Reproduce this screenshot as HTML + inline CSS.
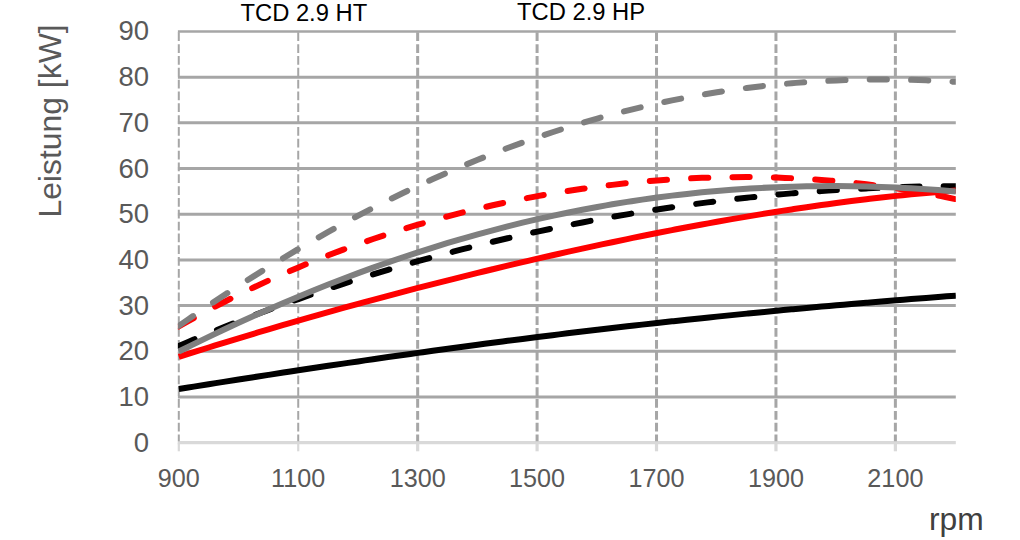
<!DOCTYPE html>
<html><head><meta charset="utf-8"><title>Leistung</title>
<style>
html,body{margin:0;padding:0;background:#fff;}
body{width:1020px;height:540px;position:relative;overflow:hidden;font-family:"Liberation Sans",sans-serif;}
svg{position:absolute;left:0;top:0;}
.t{position:absolute;top:-1.1px;font-size:23.75px;line-height:28px;color:#000;white-space:nowrap;}
.yl{position:absolute;left:89px;width:60px;text-align:right;font-size:27.5px;line-height:30px;height:30px;color:#595959;}
.xl{position:absolute;top:463.2px;width:80px;text-align:center;font-size:25.2px;line-height:30px;color:#595959;}
.ya{position:absolute;left:49.7px;top:121px;width:0;height:0;}
.ya span{position:absolute;display:block;white-space:nowrap;font-size:31.9px;line-height:36px;color:#595959;transform:translate(-50%,-50%) rotate(-90deg);}
.rpm{position:absolute;left:929px;top:498.7px;font-size:31.8px;line-height:40px;color:#404040;}
</style></head><body>
<svg width="1020" height="540" viewBox="0 0 1020 540">
<line x1="177.9" y1="396.96" x2="955.8" y2="396.96" stroke="#a6a6a6" stroke-width="3.0"/>
<line x1="177.9" y1="351.27" x2="955.8" y2="351.27" stroke="#a6a6a6" stroke-width="3.0"/>
<line x1="177.9" y1="305.58" x2="955.8" y2="305.58" stroke="#a6a6a6" stroke-width="3.0"/>
<line x1="177.9" y1="259.89" x2="955.8" y2="259.89" stroke="#a6a6a6" stroke-width="3.0"/>
<line x1="177.9" y1="214.21" x2="955.8" y2="214.21" stroke="#a6a6a6" stroke-width="3.0"/>
<line x1="177.9" y1="168.52" x2="955.8" y2="168.52" stroke="#a6a6a6" stroke-width="3.0"/>
<line x1="177.9" y1="122.83" x2="955.8" y2="122.83" stroke="#a6a6a6" stroke-width="3.0"/>
<line x1="177.9" y1="77.14" x2="955.8" y2="77.14" stroke="#a6a6a6" stroke-width="3.0"/>
<line x1="177.9" y1="31.45" x2="955.8" y2="31.45" stroke="#a6a6a6" stroke-width="2.6"/>
<line x1="177.8" y1="442.65" x2="955.8" y2="442.65" stroke="#d9d9d9" stroke-width="3.2"/>
<line x1="178.80" y1="442.65" x2="178.80" y2="451.30" stroke="#d9d9d9" stroke-width="2.2"/>
<line x1="178.80" y1="32.35" x2="178.80" y2="441.25" stroke="#a6a6a6" stroke-width="2.0" stroke-dasharray="8.75 3.08"/>
<line x1="298.23" y1="442.65" x2="298.23" y2="451.30" stroke="#d9d9d9" stroke-width="2.2"/>
<line x1="298.23" y1="32.35" x2="298.23" y2="441.25" stroke="#a6a6a6" stroke-width="2.0" stroke-dasharray="8.75 3.08"/>
<line x1="417.66" y1="442.65" x2="417.66" y2="451.30" stroke="#d9d9d9" stroke-width="3.2"/>
<line x1="417.66" y1="32.35" x2="417.66" y2="441.25" stroke="#a6a6a6" stroke-width="3.0" stroke-dasharray="8.75 3.08"/>
<line x1="537.09" y1="442.65" x2="537.09" y2="451.30" stroke="#d9d9d9" stroke-width="3.2"/>
<line x1="537.09" y1="32.35" x2="537.09" y2="441.25" stroke="#a6a6a6" stroke-width="3.0" stroke-dasharray="8.75 3.08"/>
<line x1="656.52" y1="442.65" x2="656.52" y2="451.30" stroke="#d9d9d9" stroke-width="3.2"/>
<line x1="656.52" y1="32.35" x2="656.52" y2="441.25" stroke="#a6a6a6" stroke-width="3.0" stroke-dasharray="8.75 3.08"/>
<line x1="775.95" y1="442.65" x2="775.95" y2="451.30" stroke="#d9d9d9" stroke-width="3.2"/>
<line x1="775.95" y1="32.35" x2="775.95" y2="441.25" stroke="#a6a6a6" stroke-width="3.0" stroke-dasharray="8.75 3.08"/>
<line x1="895.38" y1="442.65" x2="895.38" y2="451.30" stroke="#d9d9d9" stroke-width="3.2"/>
<line x1="895.38" y1="32.35" x2="895.38" y2="441.25" stroke="#a6a6a6" stroke-width="3.0" stroke-dasharray="8.75 3.08"/>
<clipPath id="pc"><rect x="177.90" y="0" width="777.90" height="540"/></clipPath>
<path clip-path="url(#pc)" d="M178.80 389.00 C181.29 388.60 188.76 387.40 193.75 386.61 C198.73 385.81 203.71 385.02 208.69 384.23 C213.67 383.44 218.66 382.65 223.64 381.87 C228.62 381.08 233.60 380.30 238.58 379.52 C243.57 378.74 248.55 377.96 253.53 377.19 C258.51 376.42 263.49 375.65 268.48 374.88 C273.46 374.11 278.44 373.34 283.42 372.58 C288.40 371.82 293.39 371.06 298.37 370.31 C303.35 369.55 308.33 368.80 313.31 368.05 C318.30 367.30 323.28 366.56 328.26 365.81 C333.24 365.07 338.22 364.33 343.21 363.60 C348.19 362.87 353.17 362.13 358.15 361.41 C363.13 360.68 368.12 359.96 373.10 359.24 C378.08 358.52 383.06 357.80 388.05 357.09 C393.03 356.38 398.01 355.67 402.99 354.97 C407.97 354.27 412.96 353.57 417.94 352.87 C422.92 352.18 427.90 351.48 432.88 350.80 C437.87 350.11 442.85 349.43 447.83 348.75 C452.81 348.07 457.79 347.40 462.78 346.73 C467.76 346.06 472.74 345.39 477.72 344.73 C482.70 344.07 487.69 343.42 492.67 342.77 C497.65 342.11 502.63 341.47 507.61 340.82 C512.60 340.18 517.58 339.54 522.56 338.91 C527.54 338.28 532.52 337.65 537.51 337.02 C542.49 336.40 547.47 335.78 552.45 335.17 C557.43 334.55 562.42 333.94 567.40 333.34 C572.38 332.73 577.36 332.13 582.34 331.54 C587.33 330.94 592.31 330.35 597.29 329.76 C602.27 329.18 607.25 328.60 612.24 328.02 C617.22 327.44 622.20 326.87 627.18 326.30 C632.16 325.74 637.15 325.17 642.13 324.62 C647.11 324.06 652.09 323.51 657.07 322.96 C662.06 322.41 667.04 321.87 672.02 321.33 C677.00 320.79 681.98 320.26 686.97 319.73 C691.95 319.20 696.93 318.68 701.91 318.16 C706.89 317.64 711.88 317.13 716.86 316.62 C721.84 316.11 726.82 315.61 731.80 315.11 C736.79 314.61 741.77 314.11 746.75 313.62 C751.73 313.13 756.71 312.65 761.70 312.17 C766.68 311.68 771.66 311.21 776.64 310.74 C781.62 310.26 786.61 309.80 791.59 309.34 C796.57 308.87 801.55 308.41 806.54 307.96 C811.52 307.51 816.50 307.06 821.48 306.61 C826.46 306.17 831.45 305.73 836.43 305.29 C841.41 304.86 846.39 304.43 851.37 304.00 C856.36 303.57 861.34 303.15 866.32 302.73 C871.30 302.31 876.28 301.90 881.27 301.49 C886.25 301.08 891.23 300.67 896.21 300.27 C901.19 299.87 906.18 299.47 911.16 299.08 C916.14 298.68 921.12 298.29 926.10 297.91 C931.09 297.52 936.07 297.14 941.05 296.76 C946.03 296.38 953.50 295.82 956.00 295.63" fill="none" stroke="#000000" stroke-width="6" stroke-linejoin="round"/>
<path clip-path="url(#pc)" d="M178.80 345.94 C181.29 344.88 188.76 341.66 193.75 339.55 C198.73 337.44 203.71 335.37 208.69 333.31 C213.67 331.26 218.66 329.23 223.64 327.23 C228.62 325.23 233.60 323.25 238.58 321.30 C243.57 319.35 248.55 317.42 253.53 315.52 C258.51 313.62 263.49 311.74 268.48 309.89 C273.46 308.03 278.44 306.21 283.42 304.40 C288.40 302.59 293.39 300.81 298.37 299.06 C303.35 297.30 308.33 295.56 313.31 293.85 C318.30 292.14 323.28 290.46 328.26 288.79 C333.24 287.13 338.22 285.48 343.21 283.86 C348.19 282.25 353.17 280.65 358.15 279.07 C363.13 277.50 368.12 275.95 373.10 274.42 C378.08 272.89 383.06 271.38 388.05 269.89 C393.03 268.41 398.01 266.94 402.99 265.50 C407.97 264.06 412.96 262.63 417.94 261.23 C422.92 259.83 427.90 258.45 432.88 257.09 C437.87 255.74 442.85 254.40 447.83 253.08 C452.81 251.77 457.79 250.47 462.78 249.19 C467.76 247.92 472.74 246.67 477.72 245.43 C482.70 244.20 487.69 242.98 492.67 241.79 C497.65 240.59 502.63 239.42 507.61 238.27 C512.60 237.11 517.58 235.98 522.56 234.87 C527.54 233.75 532.52 232.66 537.51 231.58 C542.49 230.51 547.47 229.45 552.45 228.42 C557.43 227.38 562.42 226.37 567.40 225.37 C572.38 224.38 577.36 223.40 582.34 222.44 C587.33 221.48 592.31 220.55 597.29 219.63 C602.27 218.71 607.25 217.81 612.24 216.93 C617.22 216.05 622.20 215.19 627.18 214.34 C632.16 213.50 637.15 212.68 642.13 211.87 C647.11 211.07 652.09 210.28 657.07 209.51 C662.06 208.75 667.04 208.00 672.02 207.27 C677.00 206.54 681.98 205.83 686.97 205.14 C691.95 204.45 696.93 203.78 701.91 203.12 C706.89 202.47 711.88 201.83 716.86 201.22 C721.84 200.60 726.82 200.00 731.80 199.42 C736.79 198.84 741.77 198.28 746.75 197.74 C751.73 197.20 756.71 196.68 761.70 196.18 C766.68 195.67 771.66 195.19 776.64 194.72 C781.62 194.26 786.61 193.81 791.59 193.38 C796.57 192.95 801.55 192.54 806.54 192.15 C811.52 191.76 816.50 191.39 821.48 191.04 C826.46 190.69 831.45 190.36 836.43 190.04 C841.41 189.73 846.39 189.43 851.37 189.16 C856.36 188.88 861.34 188.63 866.32 188.39 C871.30 188.15 876.28 187.94 881.27 187.74 C886.25 187.54 891.23 187.36 896.21 187.20 C901.19 187.04 906.18 186.90 911.16 186.79 C916.14 186.67 921.12 186.57 926.10 186.49 C931.09 186.41 936.07 186.35 941.05 186.31 C946.03 186.27 953.50 186.26 956.00 186.25" fill="none" stroke="#000000" stroke-width="6" stroke-dasharray="17.2 24.2" stroke-linecap="round" stroke-linejoin="round"/>
<path clip-path="url(#pc)" d="M178.80 356.95 C181.29 356.15 188.76 353.76 193.75 352.19 C198.73 350.61 203.71 349.05 208.69 347.49 C213.67 345.94 218.66 344.39 223.64 342.86 C228.62 341.33 233.60 339.80 238.58 338.29 C243.57 336.78 248.55 335.28 253.53 333.78 C258.51 332.29 263.49 330.81 268.48 329.34 C273.46 327.86 278.44 326.40 283.42 324.95 C288.40 323.49 293.39 322.05 298.37 320.62 C303.35 319.18 308.33 317.76 313.31 316.34 C318.30 314.93 323.28 313.52 328.26 312.12 C333.24 310.72 338.22 309.34 343.21 307.96 C348.19 306.58 353.17 305.21 358.15 303.85 C363.13 302.49 368.12 301.14 373.10 299.79 C378.08 298.45 383.06 297.11 388.05 295.79 C393.03 294.46 398.01 293.15 402.99 291.84 C407.97 290.53 412.96 289.23 417.94 287.94 C422.92 286.65 427.90 285.37 432.88 284.10 C437.87 282.82 442.85 281.56 447.83 280.31 C452.81 279.05 457.79 277.80 462.78 276.57 C467.76 275.33 472.74 274.10 477.72 272.88 C482.70 271.66 487.69 270.45 492.67 269.25 C497.65 268.05 502.63 266.85 507.61 265.67 C512.60 264.49 517.58 263.31 522.56 262.15 C527.54 260.98 532.52 259.82 537.51 258.68 C542.49 257.53 547.47 256.39 552.45 255.26 C557.43 254.14 562.42 253.02 567.40 251.91 C572.38 250.80 577.36 249.70 582.34 248.61 C587.33 247.52 592.31 246.44 597.29 245.37 C602.27 244.30 607.25 243.25 612.24 242.20 C617.22 241.15 622.20 240.11 627.18 239.08 C632.16 238.05 637.15 237.04 642.13 236.03 C647.11 235.02 652.09 234.03 657.07 233.04 C662.06 232.06 667.04 231.08 672.02 230.12 C677.00 229.16 681.98 228.21 686.97 227.27 C691.95 226.33 696.93 225.41 701.91 224.49 C706.89 223.58 711.88 222.67 716.86 221.78 C721.84 220.89 726.82 220.02 731.80 219.15 C736.79 218.29 741.77 217.43 746.75 216.60 C751.73 215.76 756.71 214.93 761.70 214.12 C766.68 213.31 771.66 212.51 776.64 211.73 C781.62 210.94 786.61 210.18 791.59 209.42 C796.57 208.67 801.55 207.93 806.54 207.20 C811.52 206.48 816.50 205.76 821.48 205.07 C826.46 204.38 831.45 203.70 836.43 203.03 C841.41 202.37 846.39 201.73 851.37 201.10 C856.36 200.47 861.34 199.85 866.32 199.26 C871.30 198.66 876.28 198.08 881.27 197.52 C886.25 196.96 891.23 196.42 896.21 195.89 C901.19 195.37 906.18 194.86 911.16 194.37 C916.14 193.89 921.12 193.42 926.10 192.97 C931.09 192.52 936.07 192.09 941.05 191.68 C946.03 191.27 953.50 190.71 956.00 190.52" fill="none" stroke="#ff0000" stroke-width="6" stroke-linejoin="round"/>
<path clip-path="url(#pc)" d="M178.80 326.47 C181.29 325.07 188.76 320.84 193.75 318.09 C198.73 315.35 203.71 312.66 208.69 310.02 C213.67 307.37 218.66 304.78 223.64 302.23 C228.62 299.68 233.60 297.18 238.58 294.72 C243.57 292.27 248.55 289.86 253.53 287.50 C258.51 285.13 263.49 282.82 268.48 280.54 C273.46 278.27 278.44 276.04 283.42 273.85 C288.40 271.66 293.39 269.52 298.37 267.42 C303.35 265.32 308.33 263.26 313.31 261.24 C318.30 259.22 323.28 257.25 328.26 255.31 C333.24 253.37 338.22 251.48 343.21 249.62 C348.19 247.77 353.17 245.95 358.15 244.18 C363.13 242.40 368.12 240.67 373.10 238.97 C378.08 237.27 383.06 235.61 388.05 233.99 C393.03 232.36 398.01 230.78 402.99 229.23 C407.97 227.68 412.96 226.17 417.94 224.70 C422.92 223.23 427.90 221.79 432.88 220.39 C437.87 218.99 442.85 217.62 447.83 216.29 C452.81 214.96 457.79 213.67 462.78 212.41 C467.76 211.15 472.74 209.93 477.72 208.74 C482.70 207.55 487.69 206.40 492.67 205.28 C497.65 204.16 502.63 203.07 507.61 202.02 C512.60 200.97 517.58 199.95 522.56 198.97 C527.54 197.98 532.52 197.03 537.51 196.12 C542.49 195.20 547.47 194.32 552.45 193.47 C557.43 192.62 562.42 191.80 567.40 191.02 C572.38 190.23 577.36 189.48 582.34 188.77 C587.33 188.05 592.31 187.36 597.29 186.71 C602.27 186.06 607.25 185.44 612.24 184.86 C617.22 184.27 622.20 183.72 627.18 183.20 C632.16 182.68 637.15 182.19 642.13 181.74 C647.11 181.28 652.09 180.86 657.07 180.47 C662.06 180.09 667.04 179.73 672.02 179.41 C677.00 179.09 681.98 178.80 686.97 178.54 C691.95 178.28 696.93 178.06 701.91 177.87 C706.89 177.68 711.88 177.53 716.86 177.41 C721.84 177.28 726.82 177.20 731.80 177.14 C736.79 177.09 741.77 177.07 746.75 177.08 C751.73 177.10 756.71 177.15 761.70 177.23 C766.68 177.31 771.66 177.43 776.64 177.58 C781.62 177.74 786.61 177.92 791.59 178.15 C796.57 178.37 801.55 178.63 806.54 178.93 C811.52 179.22 816.50 179.55 821.48 179.92 C826.46 180.29 831.45 180.69 836.43 181.13 C841.41 181.58 846.39 182.06 851.37 182.57 C856.36 183.09 861.34 183.64 866.32 184.24 C871.30 184.83 876.28 185.46 881.27 186.13 C886.25 186.80 891.23 187.51 896.21 188.26 C901.19 189.01 906.18 189.80 911.16 190.63 C916.14 191.46 921.12 192.33 926.10 193.24 C931.09 194.15 936.07 195.10 941.05 196.10 C946.03 197.09 953.50 198.69 956.00 199.21" fill="none" stroke="#ff0000" stroke-width="6" stroke-dasharray="17.2 24.2" stroke-linecap="round" stroke-linejoin="round"/>
<path clip-path="url(#pc)" d="M178.80 351.50 C181.29 350.27 188.76 346.55 193.75 344.11 C198.73 341.67 203.71 339.26 208.69 336.87 C213.67 334.48 218.66 332.12 223.64 329.78 C228.62 327.44 233.60 325.13 238.58 322.84 C243.57 320.56 248.55 318.30 253.53 316.06 C258.51 313.83 263.49 311.62 268.48 309.44 C273.46 307.26 278.44 305.11 283.42 302.98 C288.40 300.85 293.39 298.75 298.37 296.68 C303.35 294.61 308.33 292.56 313.31 290.54 C318.30 288.53 323.28 286.54 328.26 284.58 C333.24 282.61 338.22 280.68 343.21 278.77 C348.19 276.87 353.17 274.99 358.15 273.14 C363.13 271.29 368.12 269.47 373.10 267.68 C378.08 265.89 383.06 264.13 388.05 262.39 C393.03 260.66 398.01 258.95 402.99 257.28 C407.97 255.60 412.96 253.95 417.94 252.34 C422.92 250.72 427.90 249.13 432.88 247.57 C437.87 246.01 442.85 244.48 447.83 242.98 C452.81 241.48 457.79 240.01 462.78 238.57 C467.76 237.13 472.74 235.72 477.72 234.34 C482.70 232.95 487.69 231.60 492.67 230.28 C497.65 228.96 502.63 227.67 507.61 226.40 C512.60 225.14 517.58 223.91 522.56 222.71 C527.54 221.51 532.52 220.33 537.51 219.19 C542.49 218.05 547.47 216.94 552.45 215.86 C557.43 214.77 562.42 213.72 567.40 212.70 C572.38 211.68 577.36 210.68 582.34 209.72 C587.33 208.76 592.31 207.83 597.29 206.93 C602.27 206.02 607.25 205.15 612.24 204.31 C617.22 203.47 622.20 202.65 627.18 201.87 C632.16 201.09 637.15 200.34 642.13 199.61 C647.11 198.89 652.09 198.20 657.07 197.53 C662.06 196.87 667.04 196.23 672.02 195.63 C677.00 195.02 681.98 194.45 686.97 193.90 C691.95 193.36 696.93 192.84 701.91 192.35 C706.89 191.87 711.88 191.41 716.86 190.98 C721.84 190.55 726.82 190.15 731.80 189.78 C736.79 189.41 741.77 189.06 746.75 188.75 C751.73 188.43 756.71 188.15 761.70 187.89 C766.68 187.63 771.66 187.40 776.64 187.20 C781.62 187.00 786.61 186.83 791.59 186.68 C796.57 186.54 801.55 186.42 806.54 186.33 C811.52 186.24 816.50 186.18 821.48 186.14 C826.46 186.11 831.45 186.10 836.43 186.12 C841.41 186.14 846.39 186.18 851.37 186.26 C856.36 186.33 861.34 186.43 866.32 186.55 C871.30 186.68 876.28 186.83 881.27 187.00 C886.25 187.18 891.23 187.38 896.21 187.61 C901.19 187.84 906.18 188.09 911.16 188.37 C916.14 188.65 921.12 188.95 926.10 189.28 C931.09 189.61 936.07 189.96 941.05 190.34 C946.03 190.71 953.50 191.34 956.00 191.54" fill="none" stroke="#7f7f7f" stroke-width="6" stroke-linejoin="round"/>
<path clip-path="url(#pc)" d="M178.80 325.86 C181.29 324.14 188.76 318.96 193.75 315.56 C198.73 312.16 203.71 308.79 208.69 305.46 C213.67 302.12 218.66 298.82 223.64 295.55 C228.62 292.28 233.60 289.05 238.58 285.84 C243.57 282.64 248.55 279.47 253.53 276.34 C258.51 273.21 263.49 270.11 268.48 267.04 C273.46 263.98 278.44 260.95 283.42 257.95 C288.40 254.96 293.39 252.00 298.37 249.07 C303.35 246.15 308.33 243.26 313.31 240.41 C318.30 237.56 323.28 234.74 328.26 231.96 C333.24 229.18 338.22 226.44 343.21 223.73 C348.19 221.02 353.17 218.35 358.15 215.72 C363.13 213.08 368.12 210.49 373.10 207.93 C378.08 205.37 383.06 202.85 388.05 200.36 C393.03 197.88 398.01 195.43 402.99 193.02 C407.97 190.61 412.96 188.24 417.94 185.91 C422.92 183.57 427.90 181.28 432.88 179.02 C437.87 176.76 442.85 174.54 447.83 172.36 C452.81 170.18 457.79 168.04 462.78 165.94 C467.76 163.83 472.74 161.77 477.72 159.74 C482.70 157.72 487.69 155.73 492.67 153.78 C497.65 151.83 502.63 149.92 507.61 148.05 C512.60 146.18 517.58 144.34 522.56 142.55 C527.54 140.76 532.52 139.00 537.51 137.29 C542.49 135.57 547.47 133.89 552.45 132.26 C557.43 130.62 562.42 129.02 567.40 127.46 C572.38 125.90 577.36 124.38 582.34 122.90 C587.33 121.42 592.31 119.97 597.29 118.57 C602.27 117.17 607.25 115.80 612.24 114.47 C617.22 113.15 622.20 111.86 627.18 110.61 C632.16 109.36 637.15 108.15 642.13 106.98 C647.11 105.81 652.09 104.68 657.07 103.58 C662.06 102.49 667.04 101.43 672.02 100.41 C677.00 99.40 681.98 98.42 686.97 97.48 C691.95 96.53 696.93 95.63 701.91 94.77 C706.89 93.90 711.88 93.07 716.86 92.28 C721.84 91.49 726.82 90.74 731.80 90.03 C736.79 89.31 741.77 88.63 746.75 87.99 C751.73 87.35 756.71 86.75 761.70 86.18 C766.68 85.62 771.66 85.09 776.64 84.59 C781.62 84.10 786.61 83.64 791.59 83.22 C796.57 82.80 801.55 82.41 806.54 82.07 C811.52 81.72 816.50 81.40 821.48 81.12 C826.46 80.85 831.45 80.60 836.43 80.40 C841.41 80.19 846.39 80.01 851.37 79.88 C856.36 79.74 861.34 79.63 866.32 79.56 C871.30 79.49 876.28 79.46 881.27 79.45 C886.25 79.45 891.23 79.48 896.21 79.54 C901.19 79.61 906.18 79.71 911.16 79.83 C916.14 79.96 921.12 80.12 926.10 80.32 C931.09 80.51 936.07 80.74 941.05 80.99 C946.03 81.25 953.50 81.71 956.00 81.85" fill="none" stroke="#7f7f7f" stroke-width="6" stroke-dasharray="17.2 24.2" stroke-linecap="round" stroke-linejoin="round"/>
</svg>
<div class="t" style="left:240.5px">TCD 2.9 HT</div>
<div class="t" style="left:517.1px;top:-1.8px">TCD 2.9 HP</div>
<div class="yl" style="top:427.6px">0</div><div class="yl" style="top:382.0px">10</div><div class="yl" style="top:336.3px">20</div><div class="yl" style="top:290.6px">30</div><div class="yl" style="top:244.9px">40</div><div class="yl" style="top:199.2px">50</div><div class="yl" style="top:153.5px">60</div><div class="yl" style="top:107.8px">70</div><div class="yl" style="top:62.1px">80</div><div class="yl" style="top:16.4px">90</div>
<div class="xl" style="left:138.8px">900</div><div class="xl" style="left:258.2px">1100</div><div class="xl" style="left:377.7px">1300</div><div class="xl" style="left:497.1px">1500</div><div class="xl" style="left:616.5px">1700</div><div class="xl" style="left:736.0px">1900</div><div class="xl" style="left:855.4px">2100</div>
<div class="ya"><span>Leistung [kW]</span></div>
<div class="rpm">rpm</div>
</body></html>
